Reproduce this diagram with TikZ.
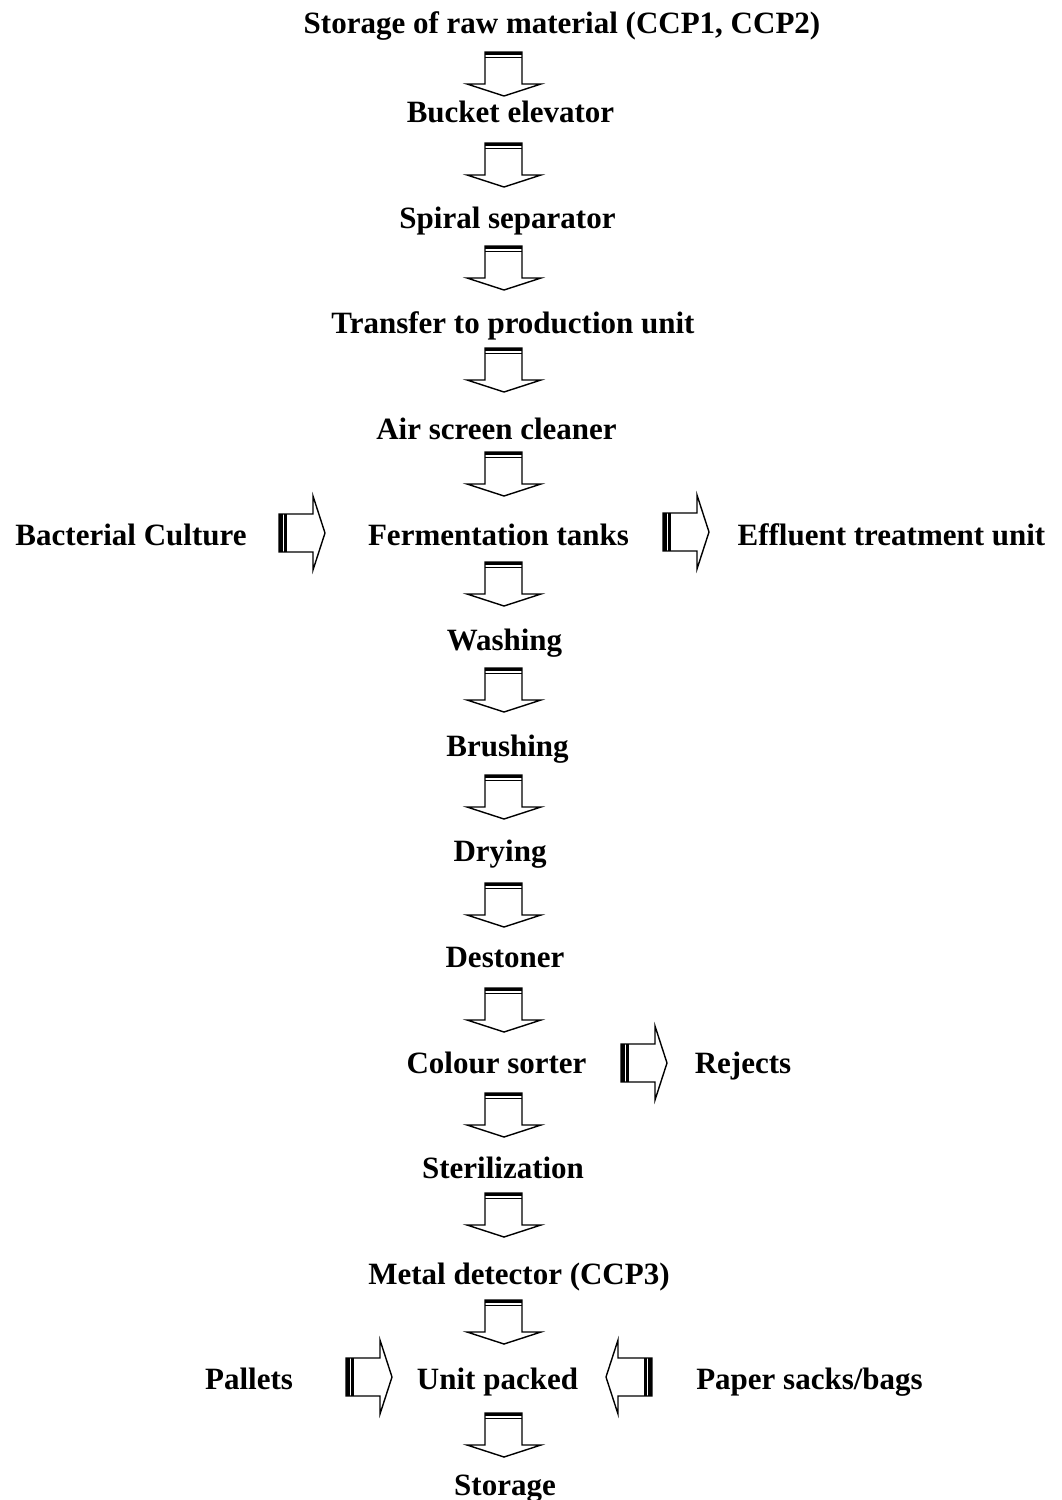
\documentclass[tikz,border=0pt]{standalone}
\usepackage{fontspec}
\setmainfont{Liberation Serif}
\newcommand{\blockdown}[1]{%
  \draw[outl] (485,#1) -- (485,#1+32) -- (467,#1+32) -- (504,#1+44) -- (541,#1+32) -- (522,#1+32) -- (522,#1) -- cycle;
  \fill[black] (485,#1) rectangle (522,#1+3.4);
  \fill[black] (485,#1+4.6) rectangle (522,#1+6);
}
\newcommand{\blockright}[2]{%
  \draw[outl] (#1,#2-19) -- (#1+34,#2-19) -- (#1+34,#2-37) -- (#1+46,#2) -- (#1+34,#2+37) -- (#1+34,#2+19) -- (#1,#2+19) -- cycle;
  \fill[black] (#1,#2-19) rectangle (#1+4,#2+19);
  \fill[black] (#1+5.2,#2-19) rectangle (#1+7.6,#2+19);
}
\newcommand{\blockleft}[2]{%
  \draw[outl] (#1,#2-19) -- (#1-34,#2-19) -- (#1-34,#2-37) -- (#1-46,#2) -- (#1-34,#2+37) -- (#1-34,#2+19) -- (#1,#2+19) -- cycle;
  \fill[black] (#1,#2-19) rectangle (#1-4,#2+19);
  \fill[black] (#1-5.2,#2-19) rectangle (#1-7.6,#2+19);
}
\begin{document}
\begin{tikzpicture}[x=1pt,y=-1pt,
  lbl/.style={font=\fontsize{31}{37}\selectfont\bfseries, anchor=base, inner sep=0pt},
  outl/.style={draw=black, line width=1.4pt, fill=white, line join=miter}]
\useasboundingbox[fill=white] (0,0) rectangle (1062,1500);
% main column
\node[lbl] (n1) at (562,33) {Storage of raw material (CCP1, CCP2)};
\node[lbl] (n2) at (510.5,122) {Bucket elevator};
\node[lbl] (n3) at (507.5,228) {Spiral separator};
\node[lbl] (n4) at (513,333) {Transfer to production unit};
\node[lbl] (n5) at (496.5,439) {Air screen cleaner};
\node[lbl] (n6) at (498.5,545) {Fermentation tanks};
\node[lbl] (n7) at (504.5,650) {Washing};
\node[lbl] (n8) at (507.5,756) {Brushing};
\node[lbl] (n9) at (500,861) {Drying};
\node[lbl] (n10) at (505,967) {Destoner};
\node[lbl] (n11) at (496.5,1073) {Colour sorter};
\node[lbl] (n12) at (503,1178) {Sterilization};
\node[lbl] (n13) at (519,1284) {Metal detector (CCP3)};
\node[lbl] (n14) at (497.5,1389) {Unit packed};
\node[lbl] (n15) at (505,1495) {Storage};
% side items
\node[lbl] (bac) at (131,545) {Bacterial Culture};
\node[lbl] (eff) at (891.5,545) {Effluent treatment unit};
\node[lbl] (rej) at (743,1073) {Rejects};
\node[lbl] (pal) at (249,1389) {Pallets};
\node[lbl] (pap) at (809.5,1389) {Paper sacks/bags};
% down arrows
\foreach \t in {52,143,246,348,452,562,668,775,883,988,1093,1193,1300,1413}{\blockdown{\t}}
% side arrows
\blockright{279}{533}
\blockright{663}{532}
\blockright{621}{1063}
\blockright{346}{1377}
\blockleft{652}{1377}
\end{tikzpicture}
\end{document}
